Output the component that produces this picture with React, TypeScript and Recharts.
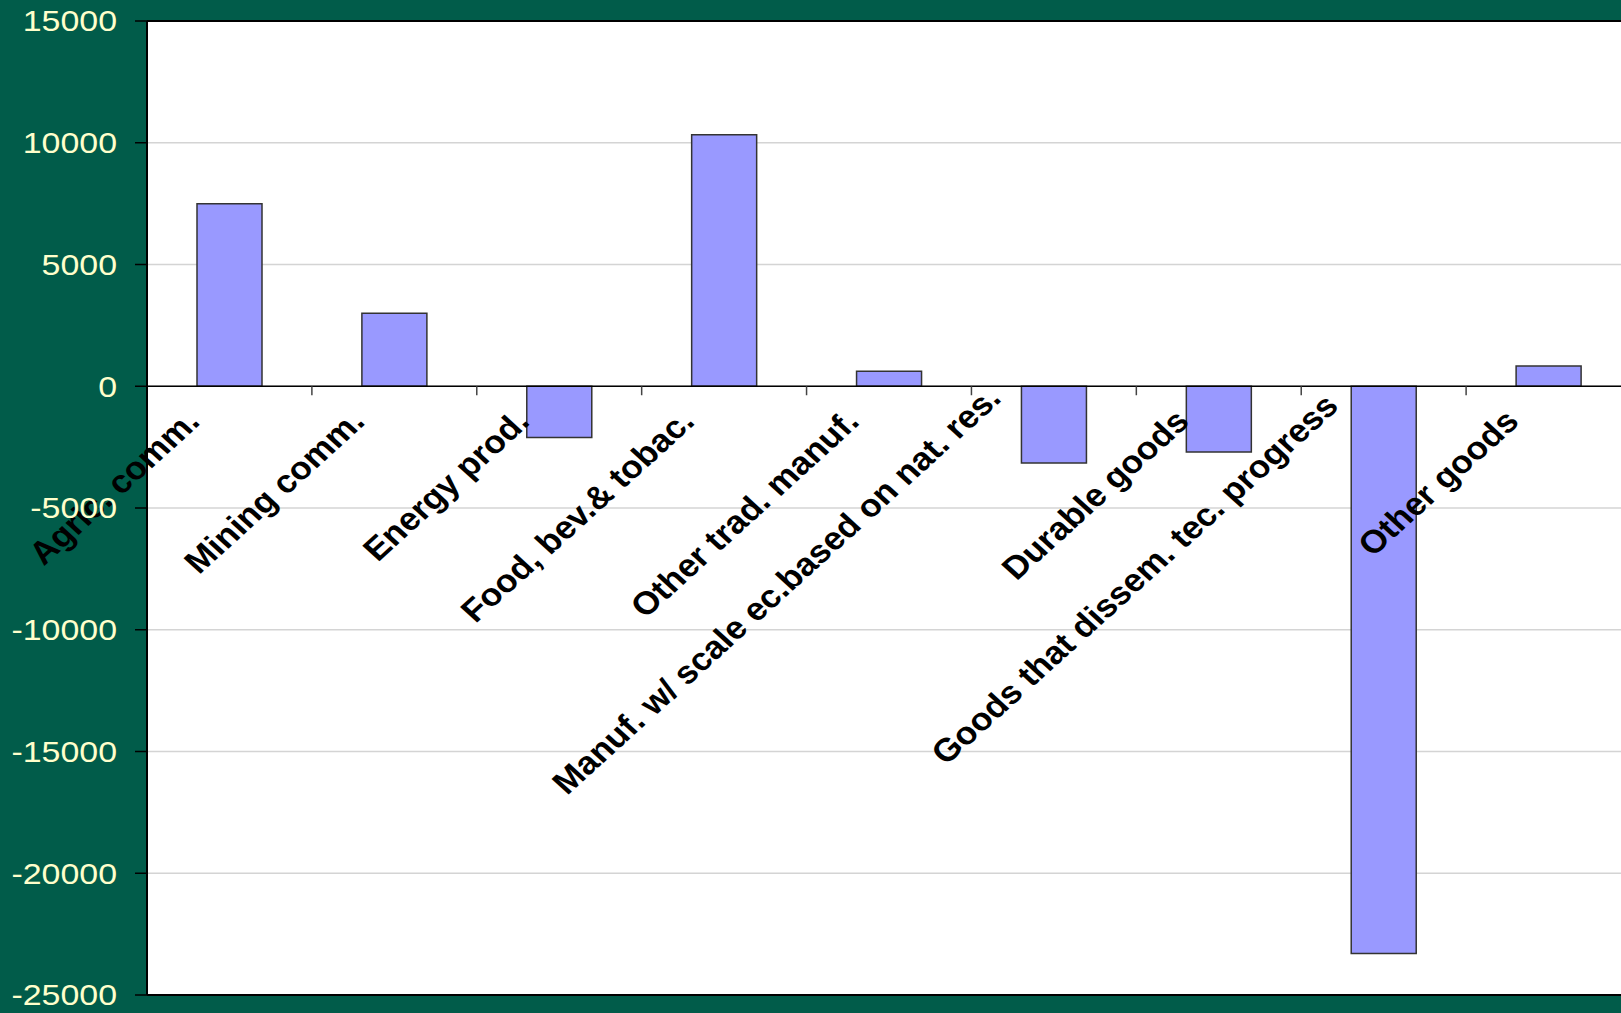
import React from "react";
import { BarChart, Bar, XAxis, YAxis, CartesianGrid, ReferenceLine } from "recharts";

const CATEGORIES = [
    "Agric. comm.",
    "Mining comm.",
    "Energy prod.",
    "Food, bev.& tobac.",
    "Other trad. manuf.",
    "Manuf. w/ scale ec.based on nat. res.",
    "Durable goods",
    "Goods that dissem. tec. progress",
    "Other goods",
];
const VALUES = [7500, 3000, -2100, 10330, 620, -3150, -2700, -23300, 830];
const Y_TICKS = [-25000, -20000, -15000, -10000, -5000, 0, 5000, 10000, 15000];

const GREEN = "#015C4A";
const STRETCH = 1.15;
const LABEL_STRETCH = 1.1;
const FONT = "'Liberation Sans', Arial, sans-serif";

const data = CATEGORIES.map((name, i) => ({ name, value: VALUES[i] }));

function YTick(props: any) {
    const { x, y, payload } = props;
    return (
        <text
            transform={`translate(${x},${y}) scale(${STRETCH},1)`}
            textAnchor="end"
            dy="0.355em"
            fill="#FFFFCC"
            fontSize={29.5}
            fontFamily={FONT}
        >
            {payload.value}
        </text>
    );
}

// zero line acts as the category axis: boundary ticks and slanted labels
function ZeroAxis(props: any) {
    const { x1, y1, x2 } = props;
    const band = (x2 - x1) / CATEGORIES.length;
    return (
        <g>
            <line x1={x1} y1={y1} x2={x2} y2={y1} stroke="#000" strokeWidth={1.5} />
            {CATEGORIES.slice(1).map((_, i) => {
                const tx = x1 + band * (i + 1);
                return <line key={`t-${i}`} x1={tx} y1={y1} x2={tx} y2={y1 + 9} stroke="#444" strokeWidth={1.5} />;
            })}
            {CATEGORIES.map((name, i) => {
                // very long labels sit a bit further up-left, like the original
                const pull = Math.max(0, name.length - 22) * 1.55;
                const cx = x1 + band * (i + 0.5) - 28 - pull;
                const cy = y1 + 37 - pull;
                return (
                    <text
                        key={`l-${i}`}
                        transform={`translate(${cx},${cy}) scale(${LABEL_STRETCH},1) rotate(-45)`}
                        textAnchor="end"
                        fill="#000"
                        fontSize={32}
                        fontWeight="bold"
                        fontFamily={FONT}
                    >
                        {name}
                    </text>
                );
            })}
        </g>
    );
}

export default function App() {
    return (
        <div
            style={{
                position: "fixed",
                left: 0,
                top: 0,
                width: 1621,
                height: 1013,
                overflow: "hidden",
                background: GREEN,
            }}
        >
            <BarChart
                width={1631}
                height={1013}
                data={data}
                margin={{ top: 21, right: 0, bottom: 0, left: 0 }}
            >
                <CartesianGrid vertical={false} stroke="#d4d4d4" strokeWidth={1.5} fill="#fff" />
                <XAxis
                    dataKey="name"
                    height={18}
                    tick={false}
                    tickLine={false}
                    axisLine={{ stroke: "#000", strokeWidth: 2 }}
                />
                <YAxis
                    width={147}
                    domain={[-25000, 15000]}
                    ticks={Y_TICKS}
                    interval={0}
                    tickSize={12}
                    tickMargin={18}
                    tick={YTick}
                    axisLine={{ stroke: "#000", strokeWidth: 2 }}
                    tickLine={{ stroke: "#000", strokeWidth: 1.5 }}
                />
                <ReferenceLine y={15000} stroke="#000" strokeWidth={2} />
                <Bar
                    dataKey="value"
                    fill="#9999FF"
                    stroke="#333"
                    strokeWidth={1.5}
                    barSize={65}
                    isAnimationActive={false}
                />
                <ReferenceLine y={0} shape={ZeroAxis} />
            </BarChart>
        </div>
    );
}
